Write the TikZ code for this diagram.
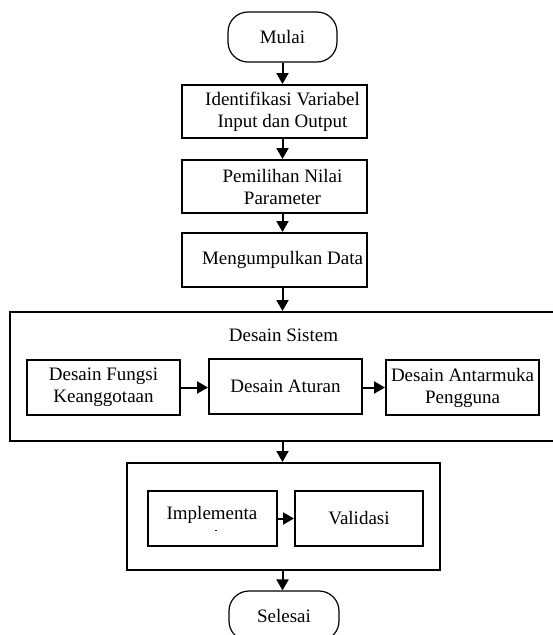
\documentclass[tikz,border=0pt]{standalone}
\usepackage{fontspec}
\setmainfont{Liberation Serif}
\usetikzlibrary{arrows.meta}
\begin{document}
\begin{tikzpicture}[x=1pt,y=-1pt,
  box/.style={draw,line width=2pt,inner sep=0pt,align=center,font=\fontsize{19}{22}\selectfont},
  term/.style={draw,line width=1.2pt,rounded corners=20pt,inner sep=0pt,align=center,font=\fontsize{19}{22}\selectfont},
  arr/.style={line width=2pt,-{Triangle[length=11pt,width=12pt]}},
  lbl/.style={inner sep=0pt,align=center,font=\fontsize{19}{22}\selectfont}]
\useasboundingbox (0,0) rectangle (552,635);
% top terminal
\node[term,minimum width=109pt,minimum height=50pt] (mulai) at (282.5,37) {Mulai};
\node[box,minimum width=185pt,minimum height=53pt] (b1) at (274.5,111.5) {};
\node[lbl] (b1lbl) at (282.5,111.5) {Identifikasi Variabel\\Input dan Output};
\node[box,minimum width=185pt,minimum height=53pt] (b2) at (274.5,186.5) {};
\node[lbl] (b2lbl) at (282.5,187) {Pemilihan Nilai\\Parameter};
\node[box,minimum width=185pt,minimum height=54pt] (b3) at (274.5,260) {};
\node[lbl] (b3lbl) at (282.5,260) {Mengumpulkan Data};
% design system group
\node[box,minimum width=556pt,minimum height=129pt] (ds) at (288,376.5) {};
\node[lbl] (dslbl) at (283.5,335) {Desain Sistem};
\node[box,minimum width=153pt,minimum height=55pt] (da) at (103.5,387.5) {Desain Fungsi\\Keanggotaan};
\node[box,minimum width=153pt,minimum height=55pt] (db) at (285.5,386.5) {Desain Aturan};
\node[box,minimum width=153pt,minimum height=55pt] (dc) at (462.5,387.5) {Desain Antarmuka\\Pengguna};
% implementation group
\node[box,minimum width=313pt,minimum height=107pt] (iv) at (283.5,516.5) {};
\node[box,minimum width=129pt,minimum height=55pt] (im) at (212.5,518.5) {};
\node[lbl] (imlbl) at (212,515) {Implementa};
\coordinate (tick) at (215,530);
\draw[line width=0.6pt] (tick) -- ++(2,0);
\node[box,minimum width=128pt,minimum height=55pt] (va) at (359,518.5) {Validasi};
% bottom terminal
\node[term,minimum width=110pt,minimum height=50pt] (sel) at (284,616) {Selesai};
% connectors
\draw[arr] (mulai.south) -- (mulai.south |- b1.north);
\draw[arr] (mulai.south |- b1.south) -- (mulai.south |- b2.north);
\draw[arr] (mulai.south |- b2.south) -- (mulai.south |- b3.north);
\draw[arr] (mulai.south |- b3.south) -- (mulai.south |- ds.north);
\draw[arr] (da.east) -- (db.west |- da.east);
\draw[arr] (db.east |- da.east) -- (dc.west);
\draw[arr] (mulai.south |- ds.south) -- (mulai.south |- iv.north);
\draw[arr] (im.east) -- (va.west);
\draw[arr] (mulai.south |- iv.south) -- (mulai.south |- sel.north);
\end{tikzpicture}
\end{document}
